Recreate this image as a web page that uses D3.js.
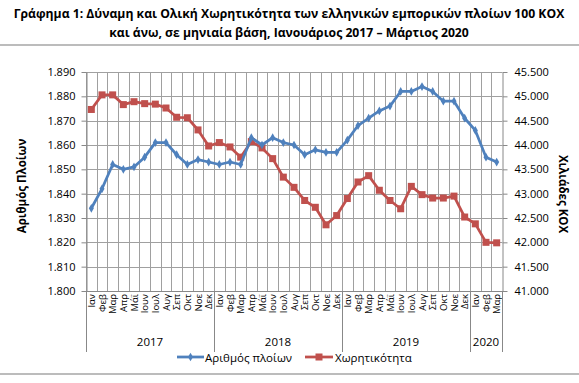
<!DOCTYPE html>
<html>
<head>
<meta charset="utf-8">
<script src="https://cdn.jsdelivr.net/npm/d3@7"></script>
<style>
  body { margin: 0; background: #fff; }
  svg text { font-family: "Open Sans", "DejaVu Sans", sans-serif; fill: #000; }
</style>
</head>
<body>
<div id="chart"></div>
<script>
const svgWidth = 579;
const svgHeight = 383;

const months = ["Ιαν", "Φεβ", "Μαρ", "Απρ", "Μάϊ", "Ιουν", "Ιουλ", "Αυγ", "Σεπ", "Οκτ", "Νοε", "Δεκ"];
const years = [2017, 2018, 2019, 2020];
const monthsPerYear = [12, 12, 12, 3];

// Αριθμός πλοίων
const ships = [1834, 1842, 1852, 1850, 1851, 1855, 1861, 1861, 1856, 1852, 1854, 1853,
               1852, 1853, 1852, 1863, 1860, 1863, 1861, 1860, 1856, 1858, 1857, 1857,
               1862, 1868, 1871, 1874, 1876, 1882, 1882, 1884, 1882, 1878, 1878, 1871,
               1866, 1855, 1853];
// Χωρητικότητα (χιλιάδες ΚΟΧ)
const capacity = [44730, 45030, 45030, 44830, 44890, 44850, 44840, 44760, 44570, 44560, 44310, 43980,
                  44050, 43960, 43750, 44070, 43940, 43720, 43340, 43130, 42860, 42720, 42360, 42550,
                  42900, 43240, 43370, 43070, 42860, 42690, 43150, 42980, 42910, 42910, 42950, 42520,
                  42380, 42000, 41990];

const leftTicks = d3.range(1800, 1891, 10);
const rightTicks = d3.range(41000, 45501, 500);

const margin = { top: 72, right: 77, bottom: 92, left: 86 };
const plotLeft = margin.left;
const plotRight = svgWidth - margin.right;
const plotTop = margin.top;
const plotBottom = svgHeight - margin.bottom;

const locale = d3.formatLocale({ decimal: ",", thousands: ".", grouping: [3], currency: ["", "€"] });
const fmt = locale.format(",.0f");

// categories
const cats = [];
years.forEach((yr, i) => {
    for (let m = 0; m < monthsPerYear[i]; m++) cats.push({ key: yr + "-" + m, year: yr, month: months[m] });
});
cats.forEach((c, i) => { c.ships = ships[i]; c.capacity = capacity[i]; });

const svg = d3.select("#chart").append("svg")
    .attr("width", svgWidth)
    .attr("height", svgHeight);

// title
const title = svg.append("g").attr("font-weight", "bold").attr("text-anchor", "middle");
title.append("text").attr("x", 289).attr("y", 18).attr("font-size", 12.2)
    .text("Γράφημα 1: Δύναμη και Ολική Χωρητικότητα των ελληνικών εμπορικών πλοίων 100 ΚΟΧ");
title.append("text").attr("x", 289).attr("y", 37).attr("font-size", 12.2)
    .text("και άνω, σε μηνιαία βάση, Ιανουάριος 2017 – Μάρτιος 2020");

svg.append("line").attr("x1", 0).attr("x2", svgWidth).attr("y1", 45).attr("y2", 45)
    .attr("stroke", "#a6a6a6").attr("stroke-width", 1.5);
svg.append("line").attr("x1", 0).attr("x2", svgWidth).attr("y1", 374).attr("y2", 374)
    .attr("stroke", "#a6a6a6").attr("stroke-width", 1.5);

const x = d3.scaleBand().domain(cats.map(d => d.key)).range([plotLeft, plotRight]).padding(0);
const yLeft = d3.scaleLinear().domain([1800, 1890]).range([plotBottom, plotTop]);
const yRight = d3.scaleLinear().domain([41000, 45500]).range([plotBottom, plotTop]);

// gridlines
const grid = svg.append("g").attr("stroke", "#a0a0a0").attr("stroke-width", 1);
grid.selectAll("line.h").data(leftTicks).enter().append("line")
    .attr("x1", plotLeft).attr("x2", plotRight)
    .attr("y1", d => Math.round(yLeft(d)) + 0.5).attr("y2", d => Math.round(yLeft(d)) + 0.5);
grid.selectAll("line.v").data(cats).enter().append("line")
    .attr("x1", d => Math.round(x(d.key)) + 0.5).attr("x2", d => Math.round(x(d.key)) + 0.5)
    .attr("y1", plotTop).attr("y2", plotBottom);

// left axis
const leftAxis = svg.append("g")
    .attr("transform", `translate(${Math.round(plotLeft) + 0.5},0)`)
    .call(d3.axisLeft(yLeft).tickValues(leftTicks).tickFormat(fmt).tickSize(5).tickSizeOuter(0).tickPadding(6));
// right axis
const rightAxis = svg.append("g")
    .attr("transform", `translate(${Math.round(plotRight) + 0.5},0)`)
    .call(d3.axisRight(yRight).tickValues(rightTicks).tickFormat(fmt).tickSize(5).tickSizeOuter(0).tickPadding(7));
[leftAxis, rightAxis].forEach(a => {
    a.selectAll("path, line").attr("stroke", "#888");
    a.selectAll("text").attr("font-size", 11).attr("fill", "#000").style("font-family", '"Open Sans", sans-serif');
});

// x axis line
svg.append("line").attr("x1", plotLeft).attr("x2", plotRight)
    .attr("y1", Math.round(plotBottom) + 0.5).attr("y2", Math.round(plotBottom) + 0.5)
    .attr("stroke", "#888");

// month labels
svg.append("g").selectAll("text").data(cats).enter().append("text")
    .attr("transform", d => `translate(${x(d.key) + x.bandwidth() / 2 + 3.5},${plotBottom + 3}) rotate(-90)`)
    .attr("text-anchor", "end")
    .attr("font-size", 9.5)
    .text(d => d.month);

// year groups
let start = 0;
const yearGroups = years.map((yr, i) => {
    const g = { year: yr, first: cats[start].key, last: cats[start + monthsPerYear[i] - 1].key };
    start += monthsPerYear[i];
    return g;
});
const sepX = yearGroups.map(g => x(g.first)).concat([plotRight]);
svg.append("g").selectAll("line").data(sepX).enter().append("line")
    .attr("x1", d => Math.round(d) + 0.5).attr("x2", d => Math.round(d) + 0.5)
    .attr("y1", plotBottom).attr("y2", 352)
    .attr("stroke", "#888");
svg.append("g").selectAll("text").data(yearGroups).enter().append("text")
    .attr("x", d => (x(d.first) + x(d.last) + x.bandwidth()) / 2)
    .attr("y", 345.5)
    .attr("text-anchor", "middle")
    .attr("font-size", 11.5)
    .text(d => d.year);

// axis titles
svg.append("text")
    .attr("transform", "translate(26,186) rotate(-90)")
    .attr("text-anchor", "middle").attr("font-weight", "bold").attr("font-size", 11.5)
    .text("Αριθμός Πλοίων");
svg.append("text")
    .attr("transform", "translate(559,194) rotate(90)")
    .attr("text-anchor", "middle").attr("font-weight", "bold").attr("font-size", 11.5)
    .text("Χιλιάδες ΚΟΧ");

const blue = "#4f81bd";
const red = "#c0504d";
const cx = d => x(d.key) + x.bandwidth() / 2;

// capacity line
svg.append("path").datum(cats)
    .attr("fill", "none").attr("stroke", red).attr("stroke-width", 2.75).attr("stroke-linejoin", "round")
    .attr("d", d3.line().x(cx).y(d => yRight(d.capacity)));
svg.append("g").selectAll("rect").data(cats).enter().append("rect")
    .attr("x", d => cx(d) - 3.5).attr("y", d => yRight(d.capacity) - 3.5)
    .attr("width", 7).attr("height", 7).attr("fill", red);

// ships line
svg.append("path").datum(cats)
    .attr("fill", "none").attr("stroke", blue).attr("stroke-width", 2.75).attr("stroke-linejoin", "round")
    .attr("d", d3.line().x(cx).y(d => yLeft(d.ships)));
const diamond = d3.symbol().type(d3.symbolDiamond).size(22);
svg.append("g").selectAll("path").data(cats).enter().append("path")
    .attr("transform", d => `translate(${cx(d)},${yLeft(d.ships)})`)
    .attr("d", diamond).attr("fill", blue);

// legend
const legend = svg.append("g").attr("font-size", 11.5);
legend.append("line").attr("x1", 177).attr("x2", 204).attr("y1", 357).attr("y2", 357)
    .attr("stroke", blue).attr("stroke-width", 2.75);
legend.append("path").attr("transform", "translate(190.5,357)").attr("d", diamond).attr("fill", blue);
legend.append("text").attr("x", 205).attr("y", 361.5).text("Αριθμός πλοίων");
legend.append("line").attr("x1", 305).attr("x2", 333).attr("y1", 357).attr("y2", 357)
    .attr("stroke", red).attr("stroke-width", 2.75);
legend.append("rect").attr("x", 315.5).attr("y", 353.5).attr("width", 7).attr("height", 7).attr("fill", red);
legend.append("text").attr("x", 335).attr("y", 361.5).text("Χωρητικότητα");
</script>
</body>
</html>
